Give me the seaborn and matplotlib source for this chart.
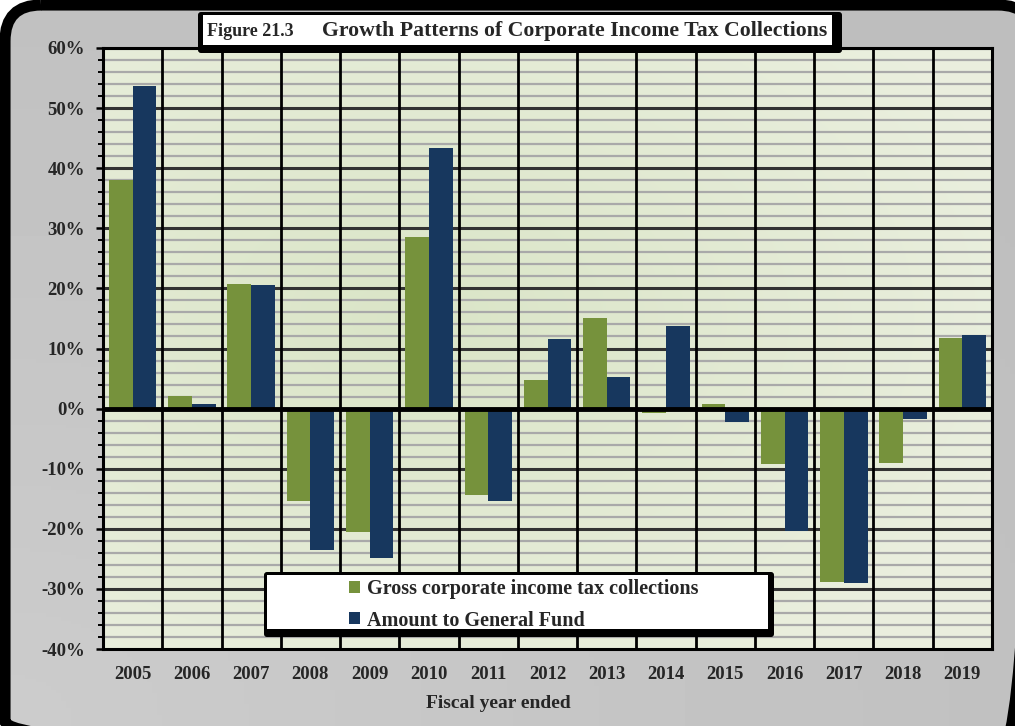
import numpy as np
import pandas as pd
import matplotlib
matplotlib.use("Agg")
import matplotlib.pyplot as plt
import seaborn as sns
from matplotlib.patches import FancyBboxPatch, Rectangle
from matplotlib.ticker import MultipleLocator, FuncFormatter

# Fiscal years and annual growth rates (percent)
years = ["2005", "2006", "2007", "2008", "2009", "2010", "2011", "2012",
         "2013", "2014", "2015", "2016", "2017", "2018", "2019"]
gross_collections = [38.1, 2.1, 20.8, -15.3, -20.6, 28.6, -14.3, 4.8,
                     15.0, -0.8, 0.8, -9.3, -28.8, -9.1, 11.8]
general_fund = [53.6, 0.8, 20.5, -23.5, -24.8, 43.3, -15.3, 11.6,
                5.2, 13.8, -2.2, -20.3, -29.1, -1.8, 12.3]
series_names = ["Gross corporate income tax collections", "Amount to General Fund"]
palette = ["#76923C", "#17375E"]

df = pd.DataFrame({
    "year": years * 2,
    "value": gross_collections + general_fund,
    "series": [series_names[0]] * len(years) + [series_names[1]] * len(years),
})

sns.set_theme(style="white")
plt.rcParams["font.family"] = ["Liberation Serif", "DejaVu Serif"]
plt.rcParams["font.weight"] = "bold"

W, H = 1015, 726
fig = plt.figure(figsize=(W / 100, H / 100), dpi=100)
fig.patch.set_facecolor("white")

def fx(x):
    return x / W

def fy(y):
    return 1 - y / H

# Rounded grey panel with a soft gradient and thick black border
bg = fig.add_axes([0, 0, 1, 1], zorder=-10)
bg.set_xlim(0, W)
bg.set_ylim(H, 0)
bg.axis("off")
gx = np.linspace(0, 1, 200)
gy = np.linspace(0, 1, 200)
GX, GY = np.meshgrid(gx, gy)
shade = 0.80 - 0.045 * np.clip(np.sqrt((GX - 0.0) ** 2 + (1 - GY) ** 2), 0, 1.2)
panel = FancyBboxPatch((5, 5), W + 14, H + 26, boxstyle="round,pad=0,rounding_size=36",
                       facecolor="none", edgecolor="black", linewidth=8)
img = bg.imshow(shade, cmap="gray", vmin=0, vmax=1, extent=[0, W, H, 0], aspect="auto")
bg.add_patch(panel)
img.set_clip_path(panel)

# Main chart area
ax = fig.add_axes([fx(103), fy(649), fx(992) - fx(103), fy(48) - fy(649)])
grad = np.linspace(0, 1, 256)
GX2, GY2 = np.meshgrid(grad, grad)
r = np.sqrt((GX2 - 0.35) ** 2 + (GY2 - 0.45) ** 2)
c0 = np.array([0.855, 0.898, 0.780])
c1 = np.array([0.918, 0.937, 0.871])
t = np.clip(r / 0.7, 0, 1)[..., None]
rgb = c0 * (1 - t) + c1 * t
ax.imshow(rgb, extent=[0, 1, 0, 1], transform=ax.transAxes, aspect="auto", zorder=0)

sns.barplot(data=df, x="year", y="value", hue="series", palette=palette,
            width=0.8, saturation=1, ax=ax, zorder=3, legend=True,
            linewidth=0, edgecolor="none")

ax.set_ylim(-40, 60)
ax.set_xlim(-0.5, len(years) - 0.5)
ax.yaxis.set_major_locator(MultipleLocator(10))
ax.yaxis.set_minor_locator(MultipleLocator(2))
ax.yaxis.set_major_formatter(FuncFormatter(lambda v, p: f"{v:.0f}%"))

ax.grid(False)
for v in np.arange(-40, 61, 2):
    if v % 10 == 0:
        continue
    ax.axhline(v, color="#A9A9A9", linewidth=1.6, zorder=1)
for v in np.arange(-30, 61, 10):
    if v == 0:
        continue
    ax.axhline(v, color="#333333", linewidth=2.2, zorder=1.5)
for i in range(len(years) - 1):
    ax.axvline(i + 0.5, color="black", linewidth=2, zorder=2)
ax.axhline(0, color="black", linewidth=3.5, zorder=4)

for s in ax.spines.values():
    s.set_color("black")
    s.set_linewidth(2.2)
    s.set_visible(True)

ax.tick_params(axis="y", which="major", direction="inout", length=10, width=1.8,
               color="black", labelsize=13.5, pad=8, left=True)
ax.tick_params(axis="y", which="minor", direction="inout", length=7, width=1.4,
               color="black", left=True)
ax.tick_params(axis="x", which="both", length=0, labelsize=13.5, pad=12)
for lbl in ax.get_xticklabels() + ax.get_yticklabels():
    lbl.set_fontweight("bold")
ax.set_xlabel("")
ax.set_ylabel("")

fig.text(fx(498), fy(703), "Fiscal year ended", ha="center", va="center",
         fontsize=14, fontweight="bold")

# Legend box with drop shadow
handles, labels = ax.get_legend_handles_labels()
ax.get_legend().remove()
bg2 = fig.add_axes([0, 0, 1, 1], zorder=20)
bg2.set_xlim(0, W)
bg2.set_ylim(H, 0)
bg2.axis("off")
bg2.patch.set_alpha(0)
bg2.add_patch(FancyBboxPatch((264, 572), 510, 65, boxstyle="round,pad=0,rounding_size=3",
                             facecolor="black", edgecolor="none"))
bg2.add_patch(Rectangle((267, 575), 501, 54, facecolor="white", edgecolor="none"))
leg = fig.legend(handles, labels, loc="center left",
                 bbox_to_anchor=(fx(339), fy(605)), frameon=False,
                 prop={"family": ["Liberation Serif"], "weight": "bold", "size": 14.5},
                 handlelength=0.55, handleheight=0.55, handletextpad=0.35,
                 labelspacing=0.55, borderpad=0)
leg.set_zorder(30)

# Title box with drop shadow
bg2.add_patch(FancyBboxPatch((198, 12), 644, 41, boxstyle="round,pad=0,rounding_size=3",
                             facecolor="black", edgecolor="none"))
bg2.add_patch(Rectangle((203, 15), 629, 30, facecolor="white", edgecolor="none"))
bg2.text(207, 31, "Figure 21.3", ha="left", va="center", fontsize=13, fontweight="bold")
bg2.text(322, 31, "Growth Patterns of Corporate Income Tax Collections", ha="left",
         va="center", fontsize=15.7, fontweight="bold")

fig.savefig("out.png", dpi=100)
